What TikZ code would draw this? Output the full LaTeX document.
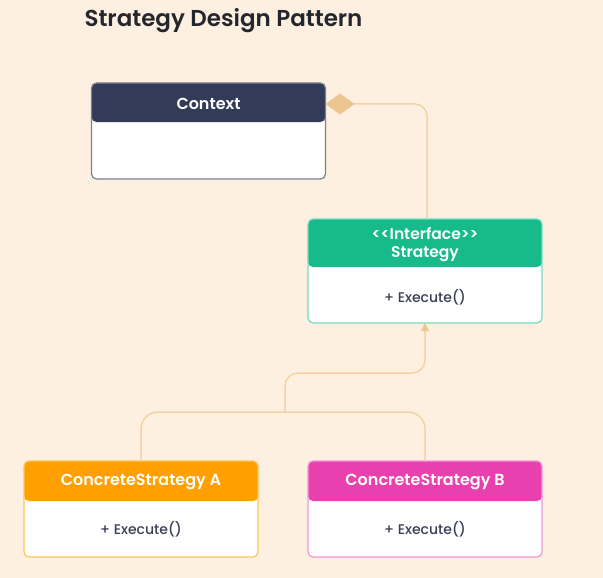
\documentclass[tikz,border=0pt]{standalone}
\usepackage{fontspec}
\setmainfont{Poppins}[BoldFont={Poppins SemiBold}]
\newfontfamily\pmed{Poppins Medium}
\usetikzlibrary{arrows.meta,positioning,calc}
\definecolor{bg}{HTML}{FEF0E0}
\definecolor{conn}{HTML}{F4D2A4}
\definecolor{dia}{HTML}{EBC690}
\definecolor{navy}{HTML}{323C58}
\definecolor{navyb}{HTML}{7A8190}
\definecolor{grn}{HTML}{17BA8A}
\definecolor{grnb}{HTML}{74DDBD}
\definecolor{org}{HTML}{FF9F00}
\definecolor{orgb}{HTML}{FCC45A}
\definecolor{mag}{HTML}{E940B0}
\definecolor{magb}{HTML}{F595D8}
\definecolor{txt}{HTML}{3A3F55}
\definecolor{ttl}{HTML}{24262E}
\begin{document}
\begin{tikzpicture}[x=1pt,y=-1pt,
  classbox/.style={rectangle, rounded corners=5pt, fill=white, line width=1.2pt,
    minimum width=234pt, inner sep=0pt, outer sep=0pt},
  hdr/.style 2 args={path picture={\fill[#1] (path picture bounding box.north west) rectangle ([yshift=-#2]path picture bounding box.north east);}},
  hdrtext/.style={font=\bfseries\fontsize{16}{18}\selectfont, text=white, align=center},
  bodytext/.style={font=\pmed\fontsize{14}{16}\selectfont, text=txt},
  connline/.style={draw=conn, line width=1.5pt},
]
\useasboundingbox[fill=bg] (0,0) rectangle (603,578);

\node[anchor=west, font=\bfseries\fontsize{23}{27}\selectfont, text=ttl] (title) at (81,21) {Strategy Design Pattern};

% Context
\node[classbox, draw=navyb, minimum height=96pt, hdr={navy}{39pt}] (ctx) at (208.5,131) {};
\node[hdrtext] (ctxh) at ([yshift=-20.5pt]ctx.north) {Context};

% Strategy
\node[classbox, draw=grnb, minimum height=104pt, hdr={grn}{48pt}] (str) at (425,271) {};
\node[hdrtext, font=\bfseries\fontsize{15.5}{18}\selectfont] (strh) at ([yshift=-25.5pt]str.north) {<\kern0pt<Interface>\kern0pt>\\Strategy};
\node[bodytext] (strb) at ([yshift=-78pt]str.north) {+ Execute()};

% Concrete A
\node[classbox, draw=orgb, minimum height=96pt, hdr={org}{40pt}] (ca) at (141,509) {};
\node[hdrtext] (cah) at ([yshift=-21.5pt]ca.north) {ConcreteStrategy A};
\node[bodytext] (cab) at ([yshift=-68pt]ca.north) {+ Execute()};

% Concrete B
\node[classbox, draw=magb, minimum height=96pt, hdr={mag}{40pt}] (cb) at (425,509) {};
\node[hdrtext] (cbh) at ([yshift=-21.5pt]cb.north) {ConcreteStrategy B};
\node[bodytext] (cbb) at ([yshift=-68pt]cb.north) {+ Execute()};

% Composition connector
\coordinate (cstart) at ($(ctx.north east)+(0,21)$);
\coordinate (cturn) at (427,104);
\draw[connline, rounded corners=12pt, {Diamond[length=29pt,width=21pt,fill=dia,color=dia]}-] (cstart) -- (cturn) -- (str.north -| cturn);

% Inheritance connectors
\coordinate (ja) at (141,412);
\coordinate (jb) at (425,412);
\coordinate (j1) at (285,412);
\coordinate (j2) at (285,373);
\draw[connline, rounded corners=17pt] (ca.north) -- (ja) -- (jb) -- (cb.north);
\draw[connline, rounded corners=13pt, -{Triangle[length=8pt,width=8pt,color=dia]}] (j1) -- (j2) -| (str.south);
\end{tikzpicture}
\end{document}
